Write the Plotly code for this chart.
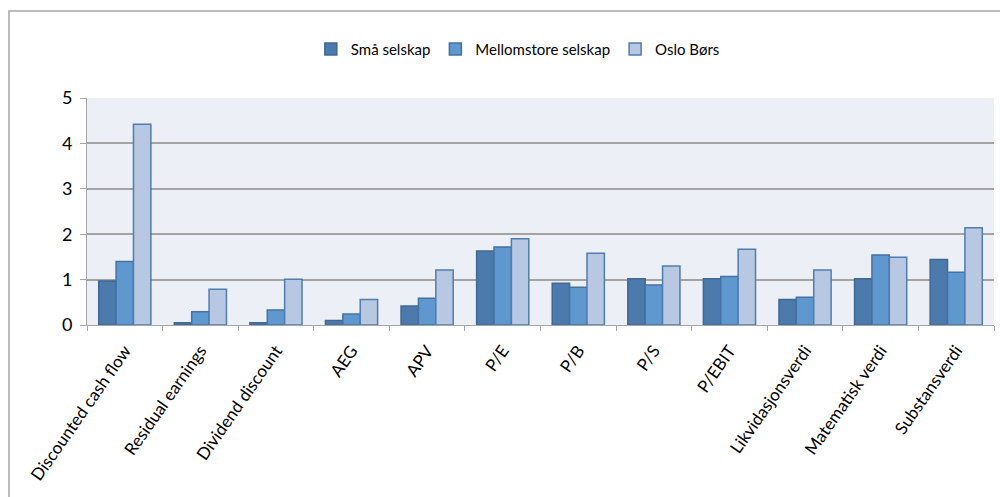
import plotly.graph_objects as go

# Valuation methods and average scores per company group
categories = [
    "Discounted cash flow", "Residual earnings", "Dividend discount", "AEG",
    "APV", "P/E", "P/B", "P/S", "P/EBIT", "Likvidasjonsverdi",
    "Matematisk verdi", "Substansverdi",
]
sma_selskap = [0.97, 0.05, 0.05, 0.10, 0.42, 1.63, 0.92, 1.02, 1.02, 0.56, 1.02, 1.44]
mellomstore_selskap = [1.40, 0.29, 0.33, 0.24, 0.59, 1.72, 0.83, 0.88, 1.07, 0.61, 1.54, 1.16]
oslo_bors = [4.42, 0.79, 1.01, 0.56, 1.21, 1.90, 1.58, 1.30, 1.67, 1.21, 1.49, 2.14]
y_ticks = [0, 1, 2, 3, 4, 5]

series = [
    ("Små selskap", sma_selskap, "#4D7AAD", "#3F6894"),
    ("Mellomstore selskap", mellomstore_selskap, "#5E98CE", "#4472A4"),
    ("Oslo Børs", oslo_bors, "#B8C7E2", "#4F7DB0"),
]

fig = go.Figure()
for name, values, fill, edge in series:
    fig.add_trace(go.Bar(
        x=categories, y=values, name=name,
        marker=dict(color=fill, line=dict(color=edge, width=1.5)),
    ))

font_family = "Lato, 'Open Sans', sans-serif"

fig.update_layout(
    width=1000, height=497,
    margin=dict(l=87, r=6, t=98, b=172),
    paper_bgcolor="white",
    plot_bgcolor="#ECEFF5",
    barmode="group",
    bargap=0.31,
    bargroupgap=0,
    font=dict(family=font_family, size=15, color="black"),
    legend=dict(
        orientation="h", x=0.475, xanchor="center", y=1.215, yanchor="middle",
        font=dict(size=15), itemwidth=30, traceorder="normal",
        bgcolor="rgba(0,0,0,0)",
    ),
    xaxis=dict(
        tickangle=-55, showgrid=False, showline=True, linecolor="#A6A6A6",
        linewidth=1, ticks="outside", ticklen=5, tickcolor="#A6A6A6",
        tickson="boundaries", tickfont=dict(size=17), mirror=False,
        ticklabelstandoff=8,
    ),
    yaxis=dict(
        range=[0, 5], tickvals=y_ticks, showgrid=True, gridcolor="#A3A3A3",
        gridwidth=2, showline=True, linecolor="#A6A6A6", linewidth=1,
        ticks="outside", ticklen=6, tickcolor="#A6A6A6",
        tickfont=dict(size=18), zeroline=False, ticklabelstandoff=4,
    ),
)

# Outer chart frame (top and left edges visible)
fig.add_shape(
    type="rect", xref="paper", yref="paper",
    x0=-0.086, x1=1.02, y0=-0.8, y1=1.383,
    line=dict(color="#A6A6A6", width=1.5), fillcolor="rgba(0,0,0,0)",
    layer="below",
)

fig.write_html("out.html")
